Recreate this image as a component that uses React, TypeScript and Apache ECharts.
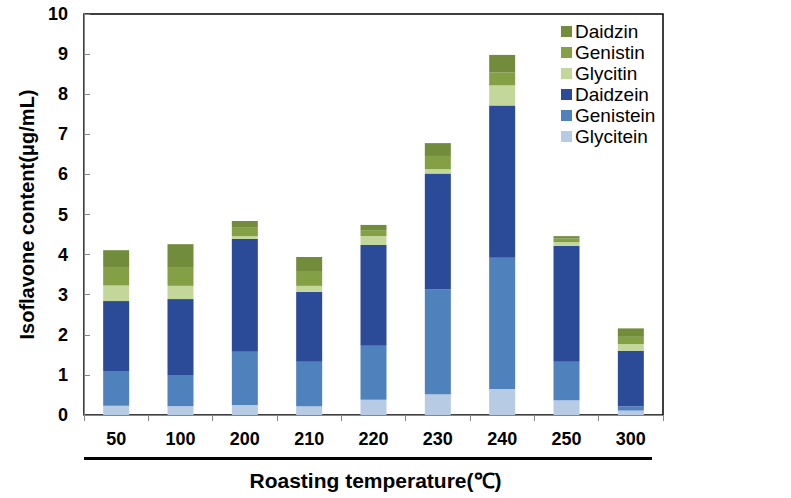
import React, { useEffect, useRef } from "react";
import * as echarts from "echarts";

const categories = ["50", "100", "200", "210", "220", "230", "240", "250", "300"];
const glycitein = [0.23, 0.22, 0.25, 0.22, 0.38, 0.52, 0.65, 0.37, 0.11];
const genistein = [0.87, 0.78, 1.33, 1.11, 1.35, 2.61, 3.27, 0.96, 0.10];
const daidzein = [1.74, 1.89, 2.81, 1.74, 2.51, 2.89, 3.8, 2.89, 1.39];
const glycitin = [0.39, 0.33, 0.07, 0.15, 0.22, 0.11, 0.5, 0.09, 0.17];
const genistin = [0.46, 0.45, 0.21, 0.35, 0.15, 0.33, 0.32, 0.09, 0.18];
const daidzin = [0.42, 0.59, 0.17, 0.37, 0.13, 0.32, 0.44, 0.06, 0.21];
const yTicks = [0, 1, 2, 3, 4, 5, 6, 7, 8, 9, 10];

const seriesDefs = [
  { name: "Glycitein", data: glycitein, color: "#b7cbe4" },
  { name: "Genistein", data: genistein, color: "#4f81bd" },
  { name: "Daidzein", data: daidzein, color: "#2b4a98" },
  { name: "Glycitin", data: glycitin, color: "#c4d79b" },
  { name: "Genistin", data: genistin, color: "#84a044" },
  { name: "Daidzin", data: daidzin, color: "#718c3a" },
];

const FONT = "'Liberation Sans', Arial, sans-serif";

export default function App() {
  const ref = useRef<HTMLDivElement>(null);
  useEffect(() => {
    if (!ref.current) return;
    const chart = echarts.init(ref.current, undefined, { renderer: "svg" });
    chart.setOption({
      animation: false,
      backgroundColor: "#ffffff",
      grid: {
        left: 84,
        top: 14,
        right: 128,
        bottom: 83,
        show: true,
        borderColor: "#000000",
        borderWidth: 1.5,
        backgroundColor: "transparent",
      },
      legend: {
        orient: "vertical",
        left: 556,
        top: 17,
        itemWidth: 11,
        itemHeight: 11,
        itemGap: 2,
        icon: "rect",
        data: ["Daidzin", "Genistin", "Glycitin", "Daidzein", "Genistein", "Glycitein"],
        textStyle: {
          fontFamily: FONT,
          fontSize: 19,
          lineHeight: 19,
          color: "#000",
          padding: [0, 0, 0, -2],
        },
      },
      xAxis: {
        type: "category",
        data: categories,
        axisLine: { lineStyle: { color: "#868686", width: 1 } },
        axisTick: { show: true, alignWithLabel: false, length: 6, lineStyle: { color: "#868686" } },
        axisLabel: {
          color: "#000",
          fontWeight: "bold",
          fontSize: 18,
          fontFamily: FONT,
          margin: 15,
        },
        name: "Roasting temperature(℃)",
        nameLocation: "middle",
        nameGap: 55,
        nameTextStyle: {
          color: "#000",
          fontWeight: "bold",
          fontSize: 21,
          fontFamily: FONT,
          padding: [0, 0, 0, 4],
        },
      },
      yAxis: {
        type: "value",
        min: 0,
        max: 10,
        interval: 1,
        axisLine: { show: true, lineStyle: { color: "#868686", width: 1 } },
        axisTick: { show: true, inside: true, length: 6, lineStyle: { color: "#868686" } },
        splitLine: { show: false },
        axisLabel: {
          color: "#000",
          fontWeight: "bold",
          fontSize: 18,
          fontFamily: FONT,
          margin: 16,
          formatter: (v: number) => (yTicks.includes(v) ? String(v) : ""),
        },
        name: "Isoflavone content(μg/mL)",
        nameLocation: "middle",
        nameGap: 39,
        nameRotate: 90,
        nameTextStyle: {
          color: "#000",
          fontWeight: "bold",
          fontSize: 20,
          fontFamily: FONT,
        },
      },
      graphic: [
        {
          type: "rect",
          left: 84,
          top: 457,
          shape: { width: 568, height: 3 },
          style: { fill: "#000" },
        },
      ],
      series: seriesDefs.map((s) => ({
        name: s.name,
        type: "bar",
        stack: "total",
        barWidth: 26,
        data: s.data,
        itemStyle: { color: s.color },
      })),
    });
    return () => chart.dispose();
  }, []);
  return (
    <div
      ref={ref}
      style={{ position: "absolute", left: 0, top: 0, width: 791, height: 498 }}
    />
  );
}
